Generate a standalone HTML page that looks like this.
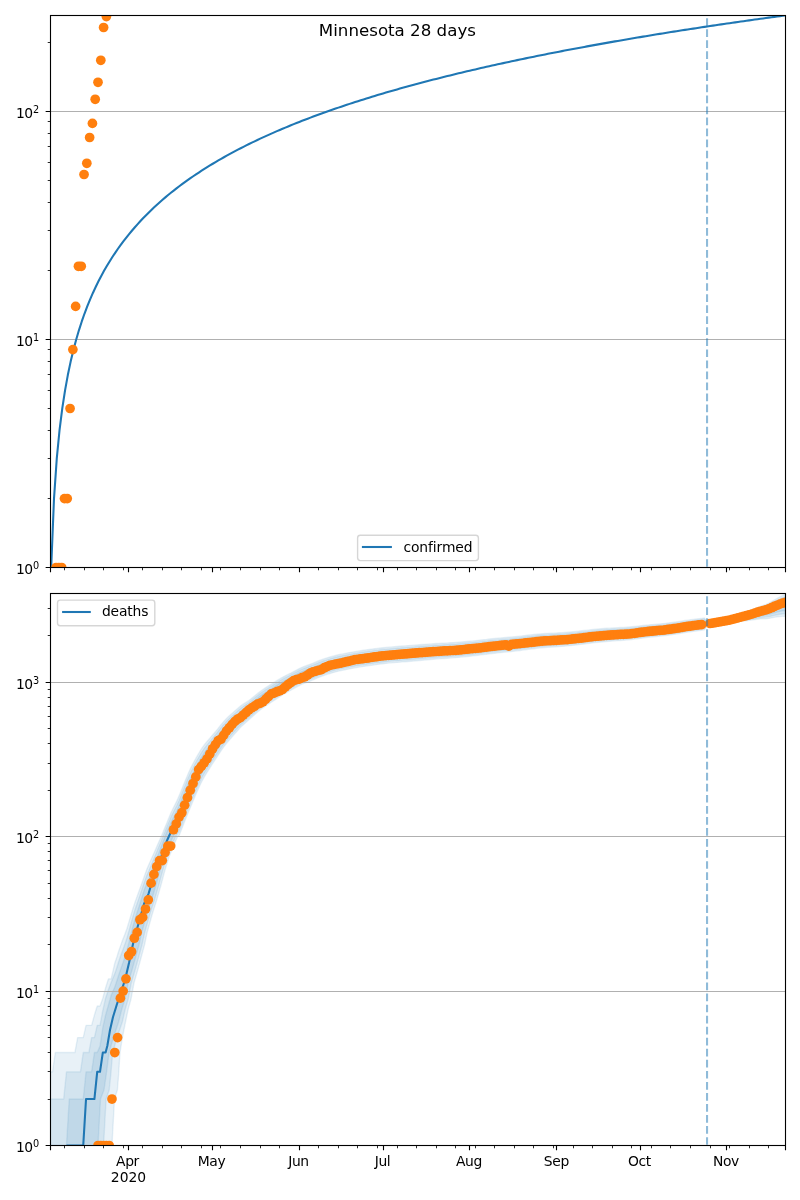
<!DOCTYPE html>
<html lang="en"><head><meta charset="utf-8"><title>Minnesota 28 days</title>
<style>html,body{margin:0;padding:0;background:#fff}svg{display:block}text{font-family:"DejaVu Sans","Liberation Sans",sans-serif;fill:#000}</style></head><body>
<svg width="800" height="1200" viewBox="0 0 800 1200">
<rect width="800" height="1200" fill="#fff"/>
<defs><clipPath id="c1"><rect x="50.5" y="15.5" width="735.0" height="552.0"/></clipPath><clipPath id="c2"><rect x="50.5" y="593.5" width="735.0" height="552.0"/></clipPath></defs>
<path d="M50.5 339.5H785.5M50.5 111.5H785.5" stroke="#b0b0b0" stroke-width="1.11" fill="none"/>
<polyline clip-path="url(#c1)" points="51.2,567.5 53.98,498.87 56.76,458.72 59.53,430.23 62.31,408.13 65.09,390.08 67.87,374.82 70.65,361.6 73.43,349.93 76.21,339.5 78.99,330.06 81.77,321.45 84.55,313.52 87.34,306.18 90.12,299.35 92.9,292.96 95.68,286.96 98.47,281.3 101.25,275.94 104.03,270.87 106.82,266.03 109.6,261.43 112.39,257.03 115.17,252.81 117.96,248.77 120.74,244.89 123.53,241.15 126.31,237.55 129.1,234.07 131.88,230.72 134.67,227.47 137.46,224.33 140.24,221.28 143.03,218.32 145.82,215.45 148.61,212.66 151.39,209.95 154.18,207.31 156.97,204.74 159.76,202.23 162.54,199.79 165.33,197.4 168.12,195.07 170.91,192.79 173.7,190.57 176.49,188.39 179.28,186.26 182.07,184.18 184.86,182.14 187.64,180.13 190.43,178.17 193.22,176.25 196.01,174.37 198.8,172.51 201.59,170.7 204.38,168.91 207.17,167.16 209.96,165.44 212.76,163.75 215.55,162.08 218.34,160.44 221.13,158.83 223.92,157.25 226.71,155.69 229.5,154.16 232.29,152.64 235.08,151.15 237.87,149.69 240.67,148.24 243.46,146.82 246.25,145.41 249.04,144.03 251.83,142.66 254.62,141.32 257.42,139.99 260.21,138.67 263,137.38 265.79,136.1 268.58,134.84 271.38,133.6 274.17,132.37 276.96,131.15 279.75,129.95 282.55,128.76 285.34,127.59 288.13,126.43 290.92,125.29 293.72,124.16 296.51,123.04 299.3,121.93 302.09,120.84 304.89,119.76 307.68,118.69 310.47,117.63 313.27,116.58 316.06,115.54 318.85,114.52 321.65,113.5 324.44,112.5 327.23,111.5 330.03,110.51 332.82,109.54 335.61,108.57 338.41,107.62 341.2,106.67 343.99,105.73 346.79,104.8 349.58,103.88 352.37,102.97 355.17,102.06 357.96,101.17 360.75,100.28 363.55,99.4 366.34,98.53 369.13,97.66 371.93,96.8 374.72,95.95 377.51,95.11 380.31,94.28 383.1,93.45 385.9,92.62 388.69,91.81 391.48,91 394.28,90.2 397.07,89.4 399.87,88.62 402.66,87.83 405.45,87.06 408.25,86.29 411.04,85.52 413.84,84.76 416.63,84.01 419.42,83.26 422.22,82.52 425.01,81.78 427.81,81.05 430.6,80.33 433.39,79.61 436.19,78.89 438.98,78.18 441.78,77.48 444.57,76.78 447.36,76.08 450.16,75.39 452.95,74.71 455.75,74.03 458.54,73.35 461.34,72.68 464.13,72.01 466.92,71.35 469.72,70.69 472.51,70.04 475.31,69.39 478.1,68.75 480.9,68.1 483.69,67.47 486.48,66.83 489.28,66.21 492.07,65.58 494.87,64.96 497.66,64.34 500.46,63.73 503.25,63.12 506.04,62.52 508.84,61.91 511.63,61.32 514.43,60.72 517.22,60.13 520.02,59.54 522.81,58.96 525.61,58.38 528.4,57.8 531.19,57.23 533.99,56.65 536.78,56.09 539.58,55.52 542.37,54.96 545.17,54.4 547.96,53.85 550.76,53.3 553.55,52.75 556.34,52.2 559.14,51.66 561.93,51.12 564.73,50.58 567.52,50.05 570.32,49.52 573.11,48.99 575.91,48.47 578.7,47.94 581.49,47.42 584.29,46.91 587.08,46.39 589.88,45.88 592.67,45.37 595.47,44.87 598.26,44.36 601.06,43.86 603.85,43.36 606.65,42.87 609.44,42.37 612.23,41.88 615.03,41.39 617.82,40.9 620.62,40.42 623.41,39.94 626.21,39.46 629,38.98 631.8,38.51 634.59,38.03 637.39,37.56 640.18,37.1 642.97,36.63 645.77,36.17 648.56,35.7 651.36,35.24 654.15,34.79 656.95,34.33 659.74,33.88 662.54,33.43 665.33,32.98 668.13,32.53 670.92,32.09 673.72,31.64 676.51,31.2 679.3,30.76 682.1,30.33 684.89,29.89 687.69,29.46 690.48,29.03 693.28,28.6 696.07,28.17 698.87,27.74 701.66,27.32 704.46,26.9 707.25,26.48 710.05,26.06 712.84,25.64 715.63,25.23 718.43,24.81 721.22,24.4 724.02,23.99 726.81,23.58 729.61,23.18 732.4,22.77 735.2,22.37 737.99,21.97 740.79,21.57 743.58,21.17 746.38,20.77 749.17,20.37 751.97,19.98 754.76,19.59 757.55,19.2 760.35,18.81 763.14,18.42 765.94,18.04 768.73,17.65 771.53,17.27 774.32,16.89 777.12,16.51 779.91,16.13 782.71,15.75 785.5,15.37" fill="none" stroke="#1f77b4" stroke-width="2.08" stroke-linejoin="round" stroke-linecap="square"/>
<g clip-path="url(#c1)" fill="#ff7f0e">
<circle cx="56.09" cy="567.5" r="4.86"/>
<circle cx="58.88" cy="567.5" r="4.86"/>
<circle cx="61.68" cy="567.5" r="4.86"/>
<circle cx="64.47" cy="498.6" r="4.86"/>
<circle cx="67.27" cy="498.6" r="4.86"/>
<circle cx="70.06" cy="408.5" r="4.86"/>
<circle cx="72.86" cy="349.6" r="4.86"/>
<circle cx="75.65" cy="306.4" r="4.86"/>
<circle cx="78.45" cy="266.3" r="4.86"/>
<circle cx="81.24" cy="266.3" r="4.86"/>
<circle cx="84.04" cy="174.5" r="4.86"/>
<circle cx="86.83" cy="163.3" r="4.86"/>
<circle cx="89.63" cy="137.5" r="4.86"/>
<circle cx="92.42" cy="123.4" r="4.86"/>
<circle cx="95.21" cy="99.3" r="4.86"/>
<circle cx="98.01" cy="82.3" r="4.86"/>
<circle cx="100.8" cy="60.3" r="4.86"/>
<circle cx="103.6" cy="27.5" r="4.86"/>
<circle cx="106.39" cy="16.6" r="4.86"/>
</g>
<path clip-path="url(#c1)" d="M707.05 566.85V15.5" stroke="#1f77b4" stroke-opacity="0.5" stroke-width="2.08" stroke-dasharray="7.71 3.33" fill="none"/>
<path d="M50.5 567.5v4.86M785.5 567.5v4.86M128.5 567.5v4.86M212.5 567.5v4.86M299.5 567.5v4.86M383.5 567.5v4.86M469.5 567.5v4.86M556.5 567.5v4.86M640.5 567.5v4.86M726.5 567.5v4.86" stroke="#000" stroke-width="1.11" fill="none"/>
<path d="M64.5 567.5v2.78M84.5 567.5v2.78M103.5 567.5v2.78M123.5 567.5v2.78M142.5 567.5v2.78M162.5 567.5v2.78M181.5 567.5v2.78M201.5 567.5v2.78M220.5 567.5v2.78M240.5 567.5v2.78M260.5 567.5v2.78M279.5 567.5v2.78M299.5 567.5v2.78M318.5 567.5v2.78M338.5 567.5v2.78M357.5 567.5v2.78M377.5 567.5v2.78M397.5 567.5v2.78M416.5 567.5v2.78M436.5 567.5v2.78M455.5 567.5v2.78M475.5 567.5v2.78M494.5 567.5v2.78M514.5 567.5v2.78M533.5 567.5v2.78M553.5 567.5v2.78M573.5 567.5v2.78M592.5 567.5v2.78M612.5 567.5v2.78M631.5 567.5v2.78M651.5 567.5v2.78M670.5 567.5v2.78M690.5 567.5v2.78M710.5 567.5v2.78M729.5 567.5v2.78M749.5 567.5v2.78M768.5 567.5v2.78" stroke="#000" stroke-width="0.83" fill="none"/>
<path d="M50.5 567.5h-4.86M50.5 339.5h-4.86M50.5 111.5h-4.86" stroke="#000" stroke-width="1.11" fill="none"/>
<path d="M50.5 498.5h-2.78M50.5 458.5h-2.78M50.5 430.5h-2.78M50.5 408.5h-2.78M50.5 390.5h-2.78M50.5 374.5h-2.78M50.5 361.5h-2.78M50.5 349.5h-2.78M50.5 270.5h-2.78M50.5 230.5h-2.78M50.5 202.5h-2.78M50.5 180.5h-2.78M50.5 162.5h-2.78M50.5 146.5h-2.78M50.5 133.5h-2.78M50.5 121.5h-2.78M50.5 42.5h-2.78" stroke="#000" stroke-width="0.83" fill="none"/>
<rect x="50.5" y="15.5" width="735.0" height="552.0" fill="none" stroke="#000" stroke-width="1.11" stroke-linejoin="miter"/>
<text x="15.95" y="573.8" font-size="13.89"><tspan letter-spacing="-0.6">1</tspan>0<tspan dy="-5.25" font-size="9.72">0</tspan></text>
<text x="15.95" y="345.8" font-size="13.89"><tspan letter-spacing="-0.6">1</tspan>0<tspan dy="-5.25" font-size="9.72">1</tspan></text>
<text x="15.95" y="117.8" font-size="13.89"><tspan letter-spacing="-0.6">1</tspan>0<tspan dy="-5.25" font-size="9.72">2</tspan></text>
<rect x="357.6" y="535.3" width="120.8" height="25.3" rx="2.78" fill="#fff" fill-opacity="0.8" stroke="#ccc" stroke-opacity="0.8" stroke-width="1.39"/>
<path d="M361.9 547h30" stroke="#1f77b4" stroke-width="2.08" fill="none"/>
<text x="403.4" y="551.95" font-size="13.89" letter-spacing="-0.1">confirmed</text>
<text x="397.4" y="36" font-size="16.67" text-anchor="middle">Minnesota 28 days</text>
<g clip-path="url(#c2)">
<polygon points="50.5,1185.5 49.7,1071.83 52.49,1071.83 55.29,1052.54 58.08,1052.54 60.88,1052.54 63.67,1052.54 66.47,1052.54 69.26,1052.54 72.06,1052.54 74.85,1052.54 77.65,1037.58 80.44,1037.58 83.24,1037.58 86.03,1025.35 88.83,1025.35 91.62,1025.35 94.41,1015.02 97.21,1006.06 100,1006.06 102.8,998.16 105.59,987.83 108.39,978.87 111.18,978.87 114.78,963 116.78,957.22 118.78,950.72 120.78,945.11 122.78,939.61 124.78,934.43 126.78,929.07 128.78,922.41 130.78,915.74 132.78,909.07 134.78,902.85 136.78,897.34 138.78,891.82 140.78,886.3 142.78,880.64 144.78,874.92 146.78,869.37 148.78,864.84 150.78,860.3 152.78,855.77 154.78,851.22 156.78,846.65 158.78,842.07 160.78,837.5 162.78,832.71 164.78,827.84 166.78,822.97 168.78,818.08 170.78,813.17 172.78,808.97 174.78,805.06 176.78,801.1 178.78,796.56 180.78,791.77 182.78,786.83 184.78,781.8 186.78,776.9 188.78,772.24 190.78,767.9 192.78,764.05 194.78,760.25 196.78,756.65 198.78,753.27 200.78,749.92 202.78,746.93 204.78,744.21 206.78,741.73 208.78,739.43 210.78,737.11 212.78,734.76 214.78,732.47 216.78,730.09 218.78,727.61 220.78,725.03 222.78,722.62 224.78,720.36 226.78,718.24 228.78,716.33 230.78,714.49 232.78,712.7 234.78,710.91 236.78,709.2 238.78,707.5 240.78,705.83 242.78,704.42 244.78,703.14 246.78,701.9 248.78,700.64 250.78,699.11 254.51,695.98 257.31,693.67 260.1,691.5 262.9,689.49 265.69,687.66 268.48,685.95 271.28,684.19 274.07,682.4 276.87,680.66 279.66,678.89 282.46,677.29 285.25,675.81 288.05,674.44 290.84,673.08 293.64,671.6 296.43,670.08 299.23,668.62 302.02,667.31 304.82,666.26 307.61,665.26 310.4,664.23 313.2,663.12 315.99,661.92 318.79,660.76 321.58,659.69 324.38,658.68 327.17,657.82 329.97,657.03 332.76,656.23 335.56,655.46 338.35,654.76 341.15,654.13 343.94,653.64 346.74,653.12 349.53,652.62 352.33,652.11 355.12,651.63 357.91,651.14 360.71,650.68 363.5,650.26 366.3,649.86 369.09,649.48 371.89,649.12 374.68,648.75 377.48,648.38 380.27,648.03 383.07,647.7 385.86,647.39 388.66,647.13 391.45,646.89 394.25,646.67 397.04,646.46 399.83,646.26 402.63,646.04 405.42,645.82 408.22,645.6 411.01,645.39 413.81,645.16 416.6,644.95 419.4,644.74 422.19,644.53 424.99,644.32 427.78,644.12 430.58,643.93 433.37,643.74 436.17,643.56 438.96,643.4 441.75,643.24 444.55,643.09 447.34,642.93 450.14,642.77 452.93,642.59 455.73,642.41 458.52,642.2 461.32,641.98 464.11,641.73 466.91,641.48 469.7,641.21 472.5,640.92 475.29,640.63 478.09,640.34 480.88,640.03 483.67,639.72 486.47,639.4 489.26,638.98 492.06,638.75 494.85,638.51 497.65,638.27 500.44,638.04 503.24,637.8 506.03,637.55 508.83,637.3 511.62,637.04 514.42,636.76 517.21,636.46 520.01,636.15 522.8,635.82 525.6,635.45 528.39,635.05 531.18,634.85 533.98,634.55 536.77,634.26 539.57,634 542.36,633.77 545.16,633.56 547.95,633.37 550.75,633.22 553.54,633.07 556.34,632.94 559.13,632.79 561.93,632.63 564.72,632.44 567.52,632.22 570.31,631.98 573.1,631.72 575.9,631.43 578.69,631.12 581.49,630.8 584.28,630.47 587.08,630.15 589.87,629.85 592.67,629.56 595.46,629.27 598.26,629.01 601.05,628.75 603.85,628.52 606.64,628.31 609.44,628.13 612.23,627.97 615.02,627.82 617.82,627.68 620.61,627.54 623.41,627.39 626.2,627.2 629,626.99 631.79,626.73 634.59,626.44 637.38,626.14 640.18,625.82 642.97,625.48 645.77,625.17 648.56,624.88 651.36,624.62 654.15,624.38 656.94,624.13 659.74,623.89 662.53,623.62 665.33,623.32 668.12,622.99 670.92,622.62 673.71,622.23 676.51,621.83 679.3,621.4 682.1,620.96 684.89,620.55 687.69,620.14 690.48,619.75 693.28,619.38 696.07,619.03 698.87,618.7 701.66,618.35 704.45,618 707.25,621.86 710.04,621.49 712.84,621.01 715.63,620.46 718.43,619.92 721.22,619.36 724.02,618.78 726.81,618.18 729.61,617.55 732.4,616.69 735.2,615.77 737.99,614.84 740.79,613.94 743.58,613.01 746.37,612.04 749.17,611.01 751.96,609.97 754.76,608.82 757.55,607.64 760.35,606.46 763.14,605.43 765.94,604.39 768.73,603.14 771.53,601.6 774.32,599.99 777.12,598.43 779.91,596.93 782.71,595.47 785.5,594.33 785.5,616.42 782.71,616.33 779.91,616.58 777.12,616.92 774.32,617.37 771.53,617.91 768.73,618.43 765.94,618.69 763.14,618.8 760.35,618.93 757.55,619.26 754.76,619.64 751.96,620.02 749.17,620.35 746.37,620.71 743.58,621.05 740.79,621.39 737.99,621.77 735.2,622.2 732.4,622.67 729.61,623.13 726.81,623.39 724.02,623.68 721.22,623.99 718.43,624.33 715.63,624.7 712.84,625.12 710.04,625.52 707.25,625.86 704.45,629.82 701.66,630.2 698.87,630.57 696.07,630.94 693.28,631.32 690.48,631.72 687.69,632.14 684.89,632.57 682.1,633.02 679.3,633.49 676.51,633.94 673.71,634.38 670.92,634.8 668.12,635.2 665.33,635.56 662.53,635.89 659.74,636.18 656.94,636.46 654.15,636.73 651.36,637.01 648.56,637.31 645.77,637.64 642.97,638.01 640.18,638.39 637.38,638.76 634.59,639.12 631.79,639.45 629,639.76 626.2,640.03 623.41,640.26 620.61,640.46 617.82,640.65 615.02,640.84 612.23,641.04 609.44,641.25 606.64,641.48 603.85,641.74 601.05,642.01 598.26,642.3 595.46,642.6 592.67,642.92 589.87,643.25 587.08,643.59 584.28,643.95 581.49,644.31 578.69,644.67 575.9,645.02 573.1,645.34 570.31,645.64 567.52,645.92 564.72,646.17 561.93,646.4 559.13,646.6 556.34,646.79 553.54,646.96 550.75,647.14 547.95,647.33 545.16,647.56 542.36,647.8 539.57,648.08 536.77,648.37 533.98,648.69 531.18,649.03 528.39,649.27 525.6,649.71 522.8,650.11 520.01,650.48 517.21,650.84 514.42,651.17 511.62,651.48 508.83,651.79 506.03,652.07 503.24,652.35 500.44,652.63 497.65,652.91 494.85,653.19 492.06,653.46 489.26,653.73 486.47,654.19 483.67,654.55 480.88,654.9 478.09,655.25 475.29,655.58 472.5,655.91 469.7,656.23 466.91,656.54 464.11,656.84 461.32,657.12 458.52,657.39 455.73,657.63 452.93,657.86 450.14,658.07 447.34,658.27 444.55,658.47 441.75,658.66 438.96,658.86 436.17,659.06 433.37,659.28 430.58,659.51 427.78,659.74 424.99,659.98 422.19,660.23 419.4,660.48 416.6,660.72 413.81,660.97 411.01,661.21 408.22,661.45 405.42,661.69 402.63,661.92 399.83,662.16 397.04,662.38 394.25,662.61 391.45,662.85 388.66,663.1 385.86,663.39 383.07,663.71 380.27,664.06 377.48,664.43 374.68,664.82 371.89,665.2 369.09,665.59 366.3,665.98 363.5,666.4 360.71,666.84 357.91,667.32 355.12,667.83 352.33,668.34 349.53,668.88 346.74,669.41 343.94,669.96 341.15,670.49 338.35,671.15 335.56,671.88 332.76,672.68 329.97,673.51 327.17,674.34 324.38,675.23 321.58,676.27 318.79,677.38 315.99,678.59 313.2,679.83 310.4,680.98 307.61,682.05 304.82,683.1 302.02,684.19 299.23,685.54 296.43,687.04 293.64,688.62 290.84,690.25 288.05,691.75 285.25,693.27 282.46,694.9 279.66,696.64 276.87,698.56 274.07,700.42 271.28,702.27 268.48,704.08 265.69,705.85 262.9,707.81 260.1,709.96 257.31,712.28 254.51,714.74 251.72,717.3 248.92,719.81 246.13,722.28 243.33,724.69 240.54,727.36 237.74,730.44 234.95,733.52 232.15,736.71 229.36,739.92 226.56,743.27 223.77,746.94 220.98,750.94 218.18,755.22 215.39,759.29 212.59,763.6 209.8,768.08 207,772.47 204.21,777.12 201.41,782.26 198.62,788.23 195.82,794.36 193.03,801.06 190.23,807.82 187.44,814.49 184.64,821.57 181.85,828.85 179.06,835.84 177.7,836.3 173.5,846 169,857 165,870 161,885 157,899 152,915 147,933 144.5,945 138.4,967.75 134,983 131,999 128,1010 125.5,1022 122.5,1037 120,1052.4 118.6,1075 117.4,1090 114.5,1099 111.98,1145.5 111.98,1185.5" fill="#1f77b4" fill-opacity="0.1" stroke="#1f77b4" stroke-opacity="0.1" stroke-width="1.39" stroke-linejoin="round"/>
<polygon points="50.5,1185.5 49.7,1099.02 52.49,1099.02 55.29,1099.02 58.08,1099.02 60.88,1099.02 63.67,1099.02 66.47,1071.83 69.26,1071.83 72.06,1071.83 74.85,1071.83 77.65,1071.83 80.44,1071.83 83.24,1052.54 86.03,1052.54 88.83,1052.54 91.62,1037.58 94.41,1037.58 97.21,1025.35 100,1025.35 102.8,1010.39 105.59,998.16 108.39,989.77 111.18,982.31 114.78,973.61 116.78,967.67 118.78,961.27 120.78,955.57 122.78,949.96 124.78,944.6 126.78,938.62 128.78,931.55 130.78,924.28 132.78,916.99 134.78,910.34 136.78,904.45 138.78,898.62 140.78,892.74 142.78,886.74 144.78,880.93 146.78,875.6 148.78,871.04 150.78,866.07 152.78,861.28 154.78,856.48 156.78,851.67 158.78,846.85 160.78,842.03 162.78,837.05 164.78,832 166.78,826.97 168.78,822.17 170.78,817.41 172.78,813.25 174.78,809.39 176.78,805.47 178.78,800.95 180.78,796.14 182.78,791.19 184.78,786.14 186.78,781.22 188.78,776.54 190.78,772.14 192.78,768.19 194.78,764.28 196.78,760.57 198.78,757.08 200.78,753.63 202.78,750.54 204.78,747.72 206.78,745.15 208.78,742.75 210.78,740.34 212.78,737.9 214.78,735.53 216.78,733.08 218.78,730.55 220.78,727.91 222.78,725.46 224.78,723.14 226.78,720.97 228.78,719 230.78,717.11 232.78,715.26 234.78,713.42 236.78,711.65 238.78,709.89 240.78,708.17 242.78,706.71 244.78,705.37 246.78,704.08 248.78,702.76 250.78,701.21 254.51,698.05 257.31,695.72 260.1,693.53 262.9,691.51 265.69,689.66 268.48,687.95 271.28,686.18 274.07,684.38 276.87,682.63 279.66,680.84 282.46,679.23 285.25,677.73 288.05,676.34 290.84,674.97 293.64,673.47 296.43,671.95 299.23,670.48 302.02,669.17 304.82,668.12 307.61,667.11 310.4,666.07 313.2,664.96 315.99,663.76 318.79,662.59 321.58,661.51 324.38,660.5 327.17,659.64 329.97,658.84 332.76,658.04 335.56,657.26 338.35,656.56 341.15,655.93 343.94,655.43 346.74,654.91 349.53,654.41 352.33,653.89 355.12,653.41 357.91,652.92 360.71,652.46 363.5,652.03 366.3,651.63 369.09,651.25 371.89,650.89 374.68,650.52 377.48,650.15 380.27,649.79 383.07,649.46 385.86,649.15 388.66,648.89 391.45,648.64 394.25,648.42 397.04,648.21 399.83,648 402.63,647.79 405.42,647.57 408.22,647.35 411.01,647.13 413.81,646.9 416.6,646.68 419.4,646.47 422.19,646.26 424.99,646.05 427.78,645.84 430.58,645.64 433.37,645.45 436.17,645.27 438.96,645.1 441.75,644.94 444.55,644.78 447.34,644.62 450.14,644.45 452.93,644.27 455.73,644.08 458.52,643.87 461.32,643.64 464.11,643.4 466.91,643.13 469.7,642.86 472.5,642.57 475.29,642.28 478.09,641.98 480.88,641.67 483.67,641.35 486.47,641.03 489.26,640.6 492.06,640.37 494.85,640.13 497.65,639.88 500.44,639.64 503.24,639.4 506.03,639.15 508.83,638.9 511.62,638.63 514.42,638.34 517.21,638.05 520.01,637.73 522.8,637.39 525.6,637.02 528.39,636.62 531.18,636.41 533.98,636.1 536.77,635.81 539.57,635.55 542.36,635.31 545.16,635.1 547.95,634.91 550.75,634.75 553.54,634.6 556.34,634.46 559.13,634.31 561.93,634.15 564.72,633.95 567.52,633.73 570.31,633.48 573.1,633.22 575.9,632.92 578.69,632.61 581.49,632.28 584.28,631.96 587.08,631.63 589.87,631.33 592.67,631.03 595.46,630.74 598.26,630.47 601.05,630.21 603.85,629.97 606.64,629.76 609.44,629.57 612.23,629.4 615.02,629.25 617.82,629.11 620.61,628.96 623.41,628.8 626.2,628.62 629,628.39 631.79,628.13 634.59,627.84 637.38,627.53 640.18,627.2 642.97,626.86 645.77,626.54 648.56,626.25 651.36,625.99 654.15,625.74 656.94,625.49 659.74,625.24 662.53,624.97 665.33,624.67 668.12,624.34 670.92,623.96 673.71,623.57 676.51,623.16 679.3,622.73 682.1,622.29 684.89,621.87 687.69,621.46 690.48,621.07 693.28,620.69 696.07,620.34 698.87,620 701.66,619.66 704.45,619.3 707.25,622.3 710.04,621.93 712.84,621.47 715.63,620.93 718.43,620.41 721.22,619.88 724.02,619.33 726.81,618.77 729.61,618.18 732.4,617.36 735.2,616.5 737.99,615.62 740.79,614.77 743.58,613.91 746.37,613 749.17,612.04 751.96,611.07 754.76,610 757.55,608.9 760.35,607.81 763.14,606.87 765.94,605.91 768.73,604.77 771.53,603.32 774.32,601.82 777.12,600.36 779.91,598.97 782.71,597.62 785.5,596.59 785.5,613.83 782.71,613.89 779.91,614.3 777.12,614.78 774.32,615.37 771.53,616.04 768.73,616.69 765.94,617.07 763.14,617.29 760.35,617.54 757.55,617.97 754.76,618.44 751.96,618.92 749.17,619.33 746.37,619.76 743.58,620.18 740.79,620.59 737.99,621.02 735.2,621.51 732.4,622.03 729.61,622.53 726.81,622.84 724.02,623.16 721.22,623.5 718.43,623.86 715.63,624.24 712.84,624.67 710.04,625.08 707.25,625.42 704.45,628.52 701.66,628.9 698.87,629.27 696.07,629.63 693.28,630 690.48,630.4 687.69,630.82 684.89,631.25 682.1,631.69 679.3,632.16 676.51,632.61 673.71,633.04 670.92,633.46 668.12,633.86 665.33,634.21 662.53,634.54 659.74,634.83 656.94,635.1 654.15,635.37 651.36,635.65 648.56,635.94 645.77,636.27 642.97,636.63 640.18,637.01 637.38,637.37 634.59,637.72 631.79,638.05 629,638.35 626.2,638.62 623.41,638.85 620.61,639.04 617.82,639.23 615.02,639.41 612.23,639.6 609.44,639.81 606.64,640.04 603.85,640.28 601.05,640.55 598.26,640.83 595.46,641.14 592.67,641.45 589.87,641.78 587.08,642.12 584.28,642.47 581.49,642.83 578.69,643.18 575.9,643.52 573.1,643.84 570.31,644.14 567.52,644.41 564.72,644.66 561.93,644.89 559.13,645.09 556.34,645.26 553.54,645.43 550.75,645.61 547.95,645.8 545.16,646.02 542.36,646.26 539.57,646.53 536.77,646.82 533.98,647.14 531.18,647.47 528.39,647.71 525.6,648.14 522.8,648.54 520.01,648.91 517.21,649.25 514.42,649.58 511.62,649.9 508.83,650.19 506.03,650.48 503.24,650.75 500.44,651.02 497.65,651.3 494.85,651.57 492.06,651.84 489.26,652.11 486.47,652.57 483.67,652.92 480.88,653.27 478.09,653.61 475.29,653.94 472.5,654.26 469.7,654.58 466.91,654.89 464.11,655.18 461.32,655.46 458.52,655.72 455.73,655.96 452.93,656.18 450.14,656.39 447.34,656.59 444.55,656.78 441.75,656.97 438.96,657.16 436.17,657.36 433.37,657.57 430.58,657.79 427.78,658.02 424.99,658.26 422.19,658.5 419.4,658.75 416.6,658.99 413.81,659.23 411.01,659.47 408.22,659.71 405.42,659.94 402.63,660.17 399.83,660.41 397.04,660.63 394.25,660.86 391.45,661.09 388.66,661.35 385.86,661.63 383.07,661.95 380.27,662.3 377.48,662.67 374.68,663.06 371.89,663.43 369.09,663.81 366.3,664.21 363.5,664.62 360.71,665.07 357.91,665.54 355.12,666.05 352.33,666.55 349.53,667.09 346.74,667.62 343.94,668.17 341.15,668.69 338.35,669.35 335.56,670.07 332.76,670.87 329.97,671.7 327.17,672.52 324.38,673.41 321.58,674.45 318.79,675.55 315.99,676.75 313.2,677.99 310.4,679.13 307.61,680.2 304.82,681.25 302.02,682.33 299.23,683.68 296.43,685.18 293.64,686.74 290.84,688.36 288.05,689.84 285.25,691.35 282.46,692.96 279.66,694.69 276.87,696.59 274.07,698.43 271.28,700.28 268.48,702.09 265.69,703.85 262.9,705.79 260.1,707.93 257.31,710.23 254.51,712.68 251.72,715.22 248.92,717.7 246.13,720.08 243.33,722.42 240.54,725.01 237.74,728.01 234.95,731.02 232.15,734.13 229.36,737.27 226.56,740.54 223.77,744.13 220.98,748.06 218.18,752.27 215.39,756.26 212.59,760.45 209.8,764.8 207,769.05 204.21,773.58 201.41,778.58 198.62,784.41 195.82,790.39 193.03,796.93 190.23,803.55 187.44,810.18 184.64,817.24 181.85,824.49 179.06,831.45 175.7,836.3 171.46,846 166.91,857 162.86,870 158.8,885 154.73,899 149.64,915 144.55,933 141.98,945 135.76,967.75 131.28,983 128.2,999 125.01,1010 122.3,1022 117.25,1037 112.69,1052.4 110.76,1075 109.21,1090 106.1,1099 103.58,1145.5 103.58,1185.5" fill="#1f77b4" fill-opacity="0.1" stroke="#1f77b4" stroke-opacity="0.1" stroke-width="1.39" stroke-linejoin="round"/>
<polygon points="50.5,1185.5 49.7,1145.5 52.49,1145.5 55.29,1145.5 58.08,1145.5 60.88,1145.5 63.67,1145.5 66.47,1145.5 69.26,1099.02 72.06,1099.02 74.85,1099.02 77.65,1099.02 80.44,1099.02 83.24,1099.02 86.03,1071.83 88.83,1071.83 91.62,1071.83 94.41,1052.54 97.21,1052.54 100,1046.15 102.8,1027.63 105.59,1015.02 108.39,1005.23 111.18,995.25 114.78,987.11 116.78,980.97 118.78,974.7 120.78,968.89 122.78,963.14 124.78,957.55 126.78,950.76 128.78,943.18 130.78,935.15 132.78,927.07 134.78,919.87 136.78,913.5 138.78,907.27 140.78,900.93 142.78,894.51 144.78,888.58 146.78,883.52 148.78,878.93 150.78,873.4 152.78,868.29 154.78,863.18 156.78,858.05 158.78,852.93 160.78,847.81 162.78,842.58 164.78,837.3 166.78,832.05 168.78,827.39 170.78,822.81 172.78,818.71 174.78,814.9 176.78,811.03 178.78,806.53 180.78,801.71 182.78,796.73 184.78,791.66 186.78,786.72 188.78,782.01 190.78,777.55 192.78,773.46 194.78,769.41 196.78,765.56 198.78,761.92 200.78,758.35 202.78,755.14 204.78,752.2 206.78,749.51 208.78,746.99 210.78,744.46 212.78,741.9 214.78,739.41 216.78,736.88 218.78,734.28 220.78,731.58 222.78,729.06 224.78,726.68 226.78,724.44 228.78,722.4 230.78,720.44 232.78,718.52 234.78,716.61 236.78,714.78 238.78,712.95 240.78,711.15 242.78,709.62 244.78,708.22 246.78,706.85 248.78,705.46 250.78,703.87 254.51,700.67 257.31,698.32 260.1,696.11 262.9,694.07 265.69,692.21 268.48,690.49 271.28,688.71 274.07,686.9 276.87,685.13 279.66,683.33 282.46,681.69 285.25,680.18 288.05,678.76 290.84,677.37 293.64,675.85 296.43,674.32 299.23,672.85 302.02,671.53 304.82,670.47 307.61,669.46 310.4,668.42 313.2,667.3 315.99,666.09 318.79,664.91 321.58,663.83 324.38,662.81 327.17,661.95 329.97,661.15 332.76,660.34 335.56,659.56 338.35,658.86 341.15,658.22 343.94,657.72 346.74,657.19 349.53,656.69 352.33,656.17 355.12,655.68 357.91,655.18 360.71,654.72 363.5,654.29 366.3,653.89 369.09,653.51 371.89,653.14 374.68,652.77 377.48,652.39 380.27,652.03 383.07,651.7 385.86,651.39 388.66,651.12 391.45,650.88 394.25,650.66 397.04,650.44 399.83,650.23 402.63,650.01 405.42,649.79 408.22,649.57 411.01,649.34 413.81,649.12 416.6,648.89 419.4,648.67 422.19,648.45 424.99,648.24 427.78,648.03 430.58,647.82 433.37,647.62 436.17,647.44 438.96,647.26 441.75,647.1 444.55,646.93 447.34,646.77 450.14,646.59 452.93,646.41 455.73,646.21 458.52,646 461.32,645.76 464.11,645.51 466.91,645.24 469.7,644.96 472.5,644.67 475.29,644.37 478.09,644.07 480.88,643.75 483.67,643.43 486.47,643.1 489.26,642.67 492.06,642.43 494.85,642.18 497.65,641.93 500.44,641.68 503.24,641.44 506.03,641.18 508.83,640.92 511.62,640.65 514.42,640.36 517.21,640.06 520.01,639.73 522.8,639.39 525.6,639.01 528.39,638.61 531.18,638.39 533.98,638.08 536.77,637.79 539.57,637.52 542.36,637.28 545.16,637.06 547.95,636.86 550.75,636.7 553.54,636.55 556.34,636.4 559.13,636.25 561.93,636.07 564.72,635.87 567.52,635.64 570.31,635.4 573.1,635.12 575.9,634.83 578.69,634.51 581.49,634.18 584.28,633.84 587.08,633.51 589.87,633.2 592.67,632.9 595.46,632.61 598.26,632.33 601.05,632.07 603.85,631.82 606.64,631.61 609.44,631.41 612.23,631.23 615.02,631.07 617.82,630.92 620.61,630.77 623.41,630.61 626.2,630.41 629,630.18 631.79,629.91 634.59,629.61 637.38,629.29 640.18,628.96 642.97,628.61 645.77,628.29 648.56,627.99 651.36,627.72 654.15,627.47 656.94,627.22 659.74,626.96 662.53,626.69 665.33,626.38 668.12,626.04 670.92,625.67 673.71,625.27 676.51,624.85 679.3,624.43 682.1,623.98 684.89,623.55 687.69,623.14 690.48,622.74 693.28,622.36 696.07,622.01 698.87,621.67 701.66,621.32 704.45,620.96 707.25,622.86 710.04,622.5 712.84,622.05 715.63,621.54 718.43,621.04 721.22,620.54 724.02,620.04 726.81,619.52 729.61,618.99 732.4,618.22 735.2,617.42 737.99,616.62 740.79,615.84 743.58,615.05 746.37,614.23 749.17,613.36 751.96,612.48 754.76,611.51 757.55,610.51 760.35,609.53 763.14,608.7 765.94,607.86 768.73,606.83 771.53,605.51 774.32,604.14 777.12,602.81 779.91,601.56 782.71,600.36 785.5,599.48 785.5,610.52 782.71,610.79 779.91,611.39 777.12,612.06 774.32,612.83 771.53,613.67 768.73,614.47 765.94,615.01 763.14,615.38 760.35,615.76 757.55,616.32 754.76,616.92 751.96,617.51 749.17,618.03 746.37,618.56 743.58,619.08 740.79,619.57 737.99,620.08 735.2,620.63 732.4,621.21 729.61,621.77 726.81,622.13 724.02,622.49 721.22,622.86 718.43,623.25 715.63,623.66 712.84,624.1 710.04,624.51 707.25,624.86 704.45,626.86 701.66,627.24 698.87,627.6 696.07,627.96 693.28,628.33 690.48,628.72 687.69,629.14 684.89,629.57 682.1,630.01 679.3,630.47 676.51,630.91 673.71,631.34 670.92,631.76 668.12,632.15 665.33,632.5 662.53,632.82 659.74,633.11 656.94,633.38 654.15,633.64 651.36,633.91 648.56,634.2 645.77,634.52 642.97,634.87 640.18,635.25 637.38,635.61 634.59,635.95 631.79,636.27 629,636.57 626.2,636.82 623.41,637.04 620.61,637.23 617.82,637.41 615.02,637.58 612.23,637.77 609.44,637.97 606.64,638.19 603.85,638.43 601.05,638.69 598.26,638.97 595.46,639.27 592.67,639.58 589.87,639.9 587.08,640.23 584.28,640.58 581.49,640.93 578.69,641.28 575.9,641.62 573.1,641.94 570.31,642.23 567.52,642.49 564.72,642.74 561.93,642.96 559.13,643.15 556.34,643.32 553.54,643.49 550.75,643.66 547.95,643.84 545.16,644.06 542.36,644.3 539.57,644.56 536.77,644.85 533.98,645.16 531.18,645.49 528.39,645.72 525.6,646.14 522.8,646.54 520.01,646.9 517.21,647.24 514.42,647.57 511.62,647.87 508.83,648.16 506.03,648.44 503.24,648.72 500.44,648.98 497.65,649.25 494.85,649.52 492.06,649.78 489.26,650.04 486.47,650.5 483.67,650.84 480.88,651.18 478.09,651.52 475.29,651.85 472.5,652.17 469.7,652.48 466.91,652.78 464.11,653.06 461.32,653.34 458.52,653.59 455.73,653.83 452.93,654.04 450.14,654.25 447.34,654.44 444.55,654.62 441.75,654.81 438.96,654.99 436.17,655.19 433.37,655.39 430.58,655.61 427.78,655.84 424.99,656.07 422.19,656.3 419.4,656.54 416.6,656.78 413.81,657.02 411.01,657.26 408.22,657.49 405.42,657.72 402.63,657.95 399.83,658.18 397.04,658.4 394.25,658.62 391.45,658.86 388.66,659.11 385.86,659.39 383.07,659.71 380.27,660.05 377.48,660.42 374.68,660.81 371.89,661.18 369.09,661.56 366.3,661.95 363.5,662.36 360.71,662.8 357.91,663.27 355.12,663.78 352.33,664.28 349.53,664.82 346.74,665.34 343.94,665.88 341.15,666.4 338.35,667.05 335.56,667.77 332.76,668.57 329.97,669.39 327.17,670.21 324.38,671.09 321.58,672.12 318.79,673.22 315.99,674.42 313.2,675.65 310.4,676.79 307.61,677.85 304.82,678.89 302.02,679.97 299.23,681.31 296.43,682.8 293.64,684.36 290.84,685.96 288.05,687.42 285.25,688.91 282.46,690.5 279.66,692.21 276.87,694.08 274.07,695.91 271.28,697.75 268.48,699.55 265.69,701.3 262.9,703.23 260.1,705.34 257.31,707.63 254.51,710.05 251.72,712.57 248.92,715 246.13,717.29 243.33,719.53 240.54,722.02 237.74,724.92 234.95,727.83 232.15,730.85 229.36,733.89 226.56,737.07 223.77,740.56 220.98,744.4 218.18,748.51 215.39,752.41 212.59,756.45 209.8,760.63 207,764.71 204.21,769.07 201.41,773.91 198.62,779.56 195.82,785.33 193.03,791.69 190.23,798.1 187.44,804.69 184.64,811.71 181.85,818.93 179.06,825.87 173.2,836.3 168.9,846 164.29,857 160.15,870 156,885 151.88,899 146.74,915 141.58,933 138.97,945 132.67,967.75 128.14,983 125,999 121.57,1010 118.6,1022 113.6,1037 109.07,1052.4 106.18,1075 103.99,1090 100.5,1099 97.98,1145.5 97.98,1185.5" fill="#1f77b4" fill-opacity="0.1" stroke="#1f77b4" stroke-opacity="0.1" stroke-width="1.39" stroke-linejoin="round"/>
</g>
<path d="M50.5 991.5H785.5M50.5 836.5H785.5M50.5 682.5H785.5" stroke="#b0b0b0" stroke-width="1.11" fill="none"/>
<g clip-path="url(#c2)">
</g>
<polyline clip-path="url(#c2)" points="66.47,1145.5 83.24,1145.5 86.03,1099.02 94.41,1099.02 97.21,1071.83 100,1071.83 102.8,1052.54 105.59,1052.54 107.3,1046 110,1030 113,1017 117,1004 121,992 125,980 129,963 133,944 135.5,934 138,925.5 144,904 148.7,893.3 150,888.7 155,874.5 161,857.5 166.7,841.3 170,834 173.5,827 176.26,822.1 179.06,815.89 181.85,809.01 184.64,801.85 187.44,794.89 190.23,788.38 193.03,782.32 195.82,776.31 198.62,770.88 201.41,765.56 204.21,761.02 207,756.96 209.8,753.17 212.59,749.29 215.39,745.53 218.18,741.8 220.98,737.85 223.77,734.19 226.56,730.86 229.36,727.85 232.15,724.98 234.95,722.14 237.74,719.41 240.54,716.68 243.33,714.36 246.13,712.3 248.92,710.18 251.72,707.84 254.51,705.36 257.31,702.97 260.1,700.73 262.9,698.65 265.69,696.75 268.48,695.02 271.28,693.23 274.07,691.41 276.87,689.61 279.66,687.77 282.46,686.1 285.25,684.54 288.05,683.09 290.84,681.66 293.64,680.11 296.43,678.56 299.23,677.08 302.02,675.75 304.82,674.68 307.61,673.65 310.4,672.6 313.2,671.47 315.99,670.25 318.79,669.07 321.58,667.98 324.38,666.95 327.17,666.08 329.97,665.27 332.76,664.46 335.56,663.67 338.35,662.95 341.15,662.31 343.94,661.8 346.74,661.27 349.53,660.75 352.33,660.22 355.12,659.73 357.91,659.23 360.71,658.76 363.5,658.33 366.3,657.92 369.09,657.53 371.89,657.16 374.68,656.79 377.48,656.41 380.27,656.04 383.07,655.7 385.86,655.39 388.66,655.12 391.45,654.87 394.25,654.64 397.04,654.42 399.83,654.21 402.63,653.98 405.42,653.75 408.22,653.53 411.01,653.3 413.81,653.07 416.6,652.84 419.4,652.61 422.19,652.38 424.99,652.15 427.78,651.93 430.58,651.72 433.37,651.51 436.17,651.31 438.96,651.13 441.75,650.95 444.55,650.78 447.34,650.6 450.14,650.42 452.93,650.23 455.73,650.02 458.52,649.79 461.32,649.55 464.11,649.29 466.91,649.01 469.7,648.72 472.5,648.42 475.29,648.11 478.09,647.79 480.88,647.47 483.67,647.14 486.47,646.8 489.26,646.35 492.06,646.11 494.85,645.85 497.65,645.59 500.44,645.33 503.24,645.08 506.03,644.81 508.83,644.54 511.62,644.26 514.42,643.96 517.21,643.65 520.01,643.32 522.8,642.97 525.6,642.58 528.39,642.16 531.18,641.94 533.98,641.62 536.77,641.32 539.57,641.04 542.36,640.79 545.16,640.56 547.95,640.35 550.75,640.18 553.54,640.02 556.34,639.86 559.13,639.7 561.93,639.52 564.72,639.3 567.52,639.07 570.31,638.81 573.1,638.53 575.9,638.22 578.69,637.9 581.49,637.56 584.28,637.21 587.08,636.87 589.87,636.55 592.67,636.24 595.46,635.94 598.26,635.65 601.05,635.38 603.85,635.13 606.64,634.9 609.44,634.69 612.23,634.5 615.02,634.33 617.82,634.17 620.61,634 623.41,633.82 626.2,633.62 629,633.37 631.79,633.09 634.59,632.78 637.38,632.45 640.18,632.1 642.97,631.74 645.77,631.41 648.56,631.09 651.36,630.82 654.15,630.55 656.94,630.3 659.74,630.04 662.53,629.75 665.33,629.44 668.12,629.1 670.92,628.71 673.71,628.31 676.51,627.88 679.3,627.45 682.1,626.99 684.89,626.56 687.69,626.14 690.48,625.73 693.28,625.35 696.07,624.99 698.87,624.63 701.66,624.28 704.45,623.91 707.25,623.86 710.04,623.51 712.84,623.08 715.63,622.61 718.43,622.17 721.22,621.73 724.02,621.3 726.81,620.86 729.61,620.42 732.4,619.76 735.2,619.07 737.99,618.39 740.79,617.74 743.58,617.1 746.37,616.42 749.17,615.71 751.96,615 754.76,614.2 757.55,613.38 760.35,612.59 763.14,611.96 765.94,611.33 768.73,610.52 771.53,609.43 774.32,608.28 777.12,607.19 779.91,606.19 782.71,605.25 785.5,604.62" fill="none" stroke="#1f77b4" stroke-width="2.08" stroke-linejoin="round"/>
<g clip-path="url(#c2)" fill="#ff7f0e">
<circle cx="98.01" cy="1145.5" r="4.86"/>
<circle cx="100.8" cy="1145.5" r="4.86"/>
<circle cx="103.6" cy="1145.5" r="4.86"/>
<circle cx="106.39" cy="1145.5" r="4.86"/>
<circle cx="109.19" cy="1145.5" r="4.86"/>
<circle cx="111.98" cy="1099.02" r="4.86"/>
<circle cx="114.78" cy="1052.54" r="4.86"/>
<circle cx="117.57" cy="1037.58" r="4.86"/>
<circle cx="120.37" cy="998.16" r="4.86"/>
<circle cx="123.16" cy="991.1" r="4.86"/>
<circle cx="125.96" cy="978.87" r="4.86"/>
<circle cx="128.75" cy="955.52" r="4.86"/>
<circle cx="131.55" cy="951.69" r="4.86"/>
<circle cx="134.34" cy="938.23" r="4.86"/>
<circle cx="137.13" cy="932.4" r="4.86"/>
<circle cx="139.93" cy="919.71" r="4.86"/>
<circle cx="142.72" cy="917.43" r="4.86"/>
<circle cx="145.52" cy="909.04" r="4.86"/>
<circle cx="148.31" cy="899.84" r="4.86"/>
<circle cx="151.11" cy="883.18" r="4.86"/>
<circle cx="153.9" cy="874.39" r="4.86"/>
<circle cx="156.7" cy="866.63" r="4.86"/>
<circle cx="159.49" cy="860.62" r="4.86"/>
<circle cx="162.29" cy="860.62" r="4.86"/>
<circle cx="165.08" cy="852.51" r="4.86"/>
<circle cx="167.88" cy="846.04" r="4.86"/>
<circle cx="170.67" cy="846.04" r="4.86"/>
<circle cx="173.47" cy="829.7" r="4.86"/>
<circle cx="176.26" cy="823.92" r="4.86"/>
<circle cx="179.06" cy="817.08" r="4.86"/>
<circle cx="181.85" cy="812.72" r="4.86"/>
<circle cx="184.64" cy="805.18" r="4.86"/>
<circle cx="187.44" cy="797.66" r="4.86"/>
<circle cx="190.23" cy="790.22" r="4.86"/>
<circle cx="193.03" cy="783.53" r="4.86"/>
<circle cx="195.82" cy="776.89" r="4.86"/>
<circle cx="198.62" cy="769.6" r="4.86"/>
<circle cx="201.41" cy="766.24" r="4.86"/>
<circle cx="204.21" cy="762.81" r="4.86"/>
<circle cx="207" cy="758.91" r="4.86"/>
<circle cx="209.8" cy="754.05" r="4.86"/>
<circle cx="212.59" cy="748.79" r="4.86"/>
<circle cx="215.39" cy="744.59" r="4.86"/>
<circle cx="218.18" cy="740.63" r="4.86"/>
<circle cx="220.98" cy="739.21" r="4.86"/>
<circle cx="223.77" cy="735.1" r="4.86"/>
<circle cx="226.56" cy="730.82" r="4.86"/>
<circle cx="229.36" cy="727.71" r="4.86"/>
<circle cx="232.15" cy="724.37" r="4.86"/>
<circle cx="234.95" cy="721.42" r="4.86"/>
<circle cx="237.74" cy="719.06" r="4.86"/>
<circle cx="240.54" cy="717.57" r="4.86"/>
<circle cx="243.33" cy="715.01" r="4.86"/>
<circle cx="246.13" cy="712.44" r="4.86"/>
<circle cx="248.92" cy="709.86" r="4.86"/>
<circle cx="251.72" cy="707.87" r="4.86"/>
<circle cx="254.51" cy="706.22" r="4.86"/>
<circle cx="257.31" cy="704.14" r="4.86"/>
<circle cx="260.1" cy="703.31" r="4.86"/>
<circle cx="262.9" cy="701.77" r="4.86"/>
<circle cx="265.69" cy="699.22" r="4.86"/>
<circle cx="268.48" cy="696.51" r="4.86"/>
<circle cx="271.28" cy="693.83" r="4.86"/>
<circle cx="274.07" cy="693.04" r="4.86"/>
<circle cx="276.87" cy="691.72" r="4.86"/>
<circle cx="279.66" cy="690.8" r="4.86"/>
<circle cx="282.46" cy="689.44" r="4.86"/>
<circle cx="285.25" cy="687.02" r="4.86"/>
<circle cx="288.05" cy="684.55" r="4.86"/>
<circle cx="290.84" cy="682.57" r="4.86"/>
<circle cx="293.64" cy="680.58" r="4.86"/>
<circle cx="296.43" cy="679.67" r="4.86"/>
<circle cx="299.23" cy="679.03" r="4.86"/>
<circle cx="302.02" cy="677.64" r="4.86"/>
<circle cx="304.82" cy="676.77" r="4.86"/>
<circle cx="307.61" cy="675" r="4.86"/>
<circle cx="310.4" cy="673.04" r="4.86"/>
<circle cx="313.2" cy="671.77" r="4.86"/>
<circle cx="315.99" cy="671.14" r="4.86"/>
<circle cx="318.79" cy="670.24" r="4.86"/>
<circle cx="321.58" cy="669.63" r="4.86"/>
<circle cx="324.38" cy="667.71" r="4.86"/>
<circle cx="327.17" cy="666.51" r="4.86"/>
<circle cx="329.97" cy="665.31" r="4.86"/>
<circle cx="332.76" cy="664.74" r="4.86"/>
<circle cx="335.56" cy="664.17" r="4.86"/>
<circle cx="338.35" cy="663.6" r="4.86"/>
<circle cx="341.15" cy="663.03" r="4.86"/>
<circle cx="343.94" cy="662.4" r="4.86"/>
<circle cx="346.74" cy="661.72" r="4.86"/>
<circle cx="349.53" cy="661.03" r="4.86"/>
<circle cx="352.33" cy="660.35" r="4.86"/>
<circle cx="355.12" cy="659.68" r="4.86"/>
<circle cx="357.91" cy="659.32" r="4.86"/>
<circle cx="360.71" cy="658.96" r="4.86"/>
<circle cx="363.5" cy="658.59" r="4.86"/>
<circle cx="366.3" cy="658.23" r="4.86"/>
<circle cx="369.09" cy="657.83" r="4.86"/>
<circle cx="371.89" cy="657.4" r="4.86"/>
<circle cx="374.68" cy="656.97" r="4.86"/>
<circle cx="377.48" cy="656.54" r="4.86"/>
<circle cx="380.27" cy="656.12" r="4.86"/>
<circle cx="383.07" cy="655.85" r="4.86"/>
<circle cx="385.86" cy="655.58" r="4.86"/>
<circle cx="388.66" cy="655.3" r="4.86"/>
<circle cx="391.45" cy="655.03" r="4.86"/>
<circle cx="394.25" cy="654.8" r="4.86"/>
<circle cx="397.04" cy="654.59" r="4.86"/>
<circle cx="399.83" cy="654.38" r="4.86"/>
<circle cx="402.63" cy="654.18" r="4.86"/>
<circle cx="405.42" cy="653.96" r="4.86"/>
<circle cx="408.22" cy="653.71" r="4.86"/>
<circle cx="411.01" cy="653.46" r="4.86"/>
<circle cx="413.81" cy="653.21" r="4.86"/>
<circle cx="416.6" cy="652.96" r="4.86"/>
<circle cx="419.4" cy="652.73" r="4.86"/>
<circle cx="422.19" cy="652.53" r="4.86"/>
<circle cx="424.99" cy="652.32" r="4.86"/>
<circle cx="427.78" cy="652.11" r="4.86"/>
<circle cx="430.58" cy="651.91" r="4.86"/>
<circle cx="433.37" cy="651.7" r="4.86"/>
<circle cx="436.17" cy="651.49" r="4.86"/>
<circle cx="438.96" cy="651.29" r="4.86"/>
<circle cx="441.75" cy="651.08" r="4.86"/>
<circle cx="444.55" cy="650.92" r="4.86"/>
<circle cx="447.34" cy="650.78" r="4.86"/>
<circle cx="450.14" cy="650.64" r="4.86"/>
<circle cx="452.93" cy="650.5" r="4.86"/>
<circle cx="455.73" cy="650.33" r="4.86"/>
<circle cx="458.52" cy="650.05" r="4.86"/>
<circle cx="461.32" cy="649.77" r="4.86"/>
<circle cx="464.11" cy="649.49" r="4.86"/>
<circle cx="466.91" cy="649.21" r="4.86"/>
<circle cx="469.7" cy="648.93" r="4.86"/>
<circle cx="472.5" cy="648.65" r="4.86"/>
<circle cx="475.29" cy="648.37" r="4.86"/>
<circle cx="478.09" cy="648.09" r="4.86"/>
<circle cx="480.88" cy="647.79" r="4.86"/>
<circle cx="483.67" cy="647.43" r="4.86"/>
<circle cx="486.47" cy="647.07" r="4.86"/>
<circle cx="489.26" cy="646.71" r="4.86"/>
<circle cx="492.06" cy="646.36" r="4.86"/>
<circle cx="494.85" cy="646.06" r="4.86"/>
<circle cx="497.65" cy="645.76" r="4.86"/>
<circle cx="500.44" cy="645.47" r="4.86"/>
<circle cx="503.24" cy="645.18" r="4.86"/>
<circle cx="506.03" cy="644.9" r="4.86"/>
<circle cx="508.83" cy="646.13" r="4.86"/>
<circle cx="511.62" cy="644.36" r="4.86"/>
<circle cx="514.42" cy="644.1" r="4.86"/>
<circle cx="517.21" cy="643.83" r="4.86"/>
<circle cx="520.01" cy="643.54" r="4.86"/>
<circle cx="522.8" cy="643.25" r="4.86"/>
<circle cx="525.6" cy="642.96" r="4.86"/>
<circle cx="528.39" cy="642.67" r="4.86"/>
<circle cx="531.18" cy="642.36" r="4.86"/>
<circle cx="533.98" cy="642.02" r="4.86"/>
<circle cx="536.77" cy="641.69" r="4.86"/>
<circle cx="539.57" cy="641.35" r="4.86"/>
<circle cx="542.36" cy="641.02" r="4.86"/>
<circle cx="545.16" cy="640.87" r="4.86"/>
<circle cx="547.95" cy="640.74" r="4.86"/>
<circle cx="550.75" cy="640.6" r="4.86"/>
<circle cx="553.54" cy="640.47" r="4.86"/>
<circle cx="556.34" cy="640.31" r="4.86"/>
<circle cx="559.13" cy="640.12" r="4.86"/>
<circle cx="561.93" cy="639.93" r="4.86"/>
<circle cx="564.72" cy="639.74" r="4.86"/>
<circle cx="567.52" cy="639.54" r="4.86"/>
<circle cx="570.31" cy="639.25" r="4.86"/>
<circle cx="573.1" cy="638.96" r="4.86"/>
<circle cx="575.9" cy="638.67" r="4.86"/>
<circle cx="578.69" cy="638.38" r="4.86"/>
<circle cx="581.49" cy="638.05" r="4.86"/>
<circle cx="584.28" cy="637.69" r="4.86"/>
<circle cx="587.08" cy="637.33" r="4.86"/>
<circle cx="589.87" cy="636.97" r="4.86"/>
<circle cx="592.67" cy="636.62" r="4.86"/>
<circle cx="595.46" cy="636.39" r="4.86"/>
<circle cx="598.26" cy="636.15" r="4.86"/>
<circle cx="601.05" cy="635.91" r="4.86"/>
<circle cx="603.85" cy="635.68" r="4.86"/>
<circle cx="606.64" cy="635.42" r="4.86"/>
<circle cx="609.44" cy="635.15" r="4.86"/>
<circle cx="612.23" cy="634.94" r="4.86"/>
<circle cx="615.02" cy="634.75" r="4.86"/>
<circle cx="617.82" cy="634.56" r="4.86"/>
<circle cx="620.61" cy="634.42" r="4.86"/>
<circle cx="623.41" cy="634.28" r="4.86"/>
<circle cx="626.2" cy="634.14" r="4.86"/>
<circle cx="629" cy="634" r="4.86"/>
<circle cx="631.79" cy="633.68" r="4.86"/>
<circle cx="634.59" cy="633.27" r="4.86"/>
<circle cx="637.38" cy="632.86" r="4.86"/>
<circle cx="640.18" cy="632.44" r="4.86"/>
<circle cx="642.97" cy="632.03" r="4.86"/>
<circle cx="645.77" cy="631.74" r="4.86"/>
<circle cx="648.56" cy="631.48" r="4.86"/>
<circle cx="651.36" cy="631.22" r="4.86"/>
<circle cx="654.15" cy="630.96" r="4.86"/>
<circle cx="656.94" cy="630.68" r="4.86"/>
<circle cx="659.74" cy="630.39" r="4.86"/>
<circle cx="662.53" cy="630.24" r="4.86"/>
<circle cx="665.33" cy="629.85" r="4.86"/>
<circle cx="668.12" cy="629.47" r="4.86"/>
<circle cx="670.92" cy="629.08" r="4.86"/>
<circle cx="673.71" cy="628.7" r="4.86"/>
<circle cx="676.51" cy="628.26" r="4.86"/>
<circle cx="679.3" cy="627.79" r="4.86"/>
<circle cx="682.1" cy="627.32" r="4.86"/>
<circle cx="684.89" cy="626.85" r="4.86"/>
<circle cx="687.69" cy="626.38" r="4.86"/>
<circle cx="690.48" cy="626.06" r="4.86"/>
<circle cx="693.28" cy="625.66" r="4.86"/>
<circle cx="696.07" cy="625.26" r="4.86"/>
<circle cx="698.87" cy="624.86" r="4.86"/>
<circle cx="701.66" cy="624.6" r="4.86"/>
<circle cx="710.04" cy="623.49" r="4.86"/>
<circle cx="712.84" cy="623.04" r="4.86"/>
<circle cx="715.63" cy="622.53" r="4.86"/>
<circle cx="718.43" cy="622.04" r="4.86"/>
<circle cx="721.22" cy="621.56" r="4.86"/>
<circle cx="724.02" cy="621.07" r="4.86"/>
<circle cx="726.81" cy="620.57" r="4.86"/>
<circle cx="729.61" cy="620.07" r="4.86"/>
<circle cx="732.4" cy="619.34" r="4.86"/>
<circle cx="735.2" cy="618.58" r="4.86"/>
<circle cx="737.99" cy="617.82" r="4.86"/>
<circle cx="740.79" cy="617.1" r="4.86"/>
<circle cx="743.58" cy="616.37" r="4.86"/>
<circle cx="746.37" cy="615.61" r="4.86"/>
<circle cx="749.17" cy="614.8" r="4.86"/>
<circle cx="751.96" cy="614" r="4.86"/>
<circle cx="754.76" cy="613.11" r="4.86"/>
<circle cx="757.55" cy="612.2" r="4.86"/>
<circle cx="760.35" cy="611.31" r="4.86"/>
<circle cx="763.14" cy="610.57" r="4.86"/>
<circle cx="765.94" cy="609.84" r="4.86"/>
<circle cx="768.73" cy="608.92" r="4.86"/>
<circle cx="771.53" cy="607.71" r="4.86"/>
<circle cx="774.32" cy="606.46" r="4.86"/>
<circle cx="777.12" cy="605.25" r="4.86"/>
<circle cx="779.91" cy="604.13" r="4.86"/>
<circle cx="782.71" cy="603.07" r="4.86"/>
<circle cx="785.5" cy="602.33" r="4.86"/>
</g>
<path clip-path="url(#c2)" d="M707.05 1144.85V593.5" stroke="#1f77b4" stroke-opacity="0.5" stroke-width="2.08" stroke-dasharray="7.71 3.33" fill="none"/>
<path d="M50.5 1145.5v4.86M785.5 1145.5v4.86M128.5 1145.5v4.86M212.5 1145.5v4.86M299.5 1145.5v4.86M383.5 1145.5v4.86M469.5 1145.5v4.86M556.5 1145.5v4.86M640.5 1145.5v4.86M726.5 1145.5v4.86" stroke="#000" stroke-width="1.11" fill="none"/>
<path d="M64.5 1145.5v2.78M84.5 1145.5v2.78M103.5 1145.5v2.78M123.5 1145.5v2.78M142.5 1145.5v2.78M162.5 1145.5v2.78M181.5 1145.5v2.78M201.5 1145.5v2.78M220.5 1145.5v2.78M240.5 1145.5v2.78M260.5 1145.5v2.78M279.5 1145.5v2.78M299.5 1145.5v2.78M318.5 1145.5v2.78M338.5 1145.5v2.78M357.5 1145.5v2.78M377.5 1145.5v2.78M397.5 1145.5v2.78M416.5 1145.5v2.78M436.5 1145.5v2.78M455.5 1145.5v2.78M475.5 1145.5v2.78M494.5 1145.5v2.78M514.5 1145.5v2.78M533.5 1145.5v2.78M553.5 1145.5v2.78M573.5 1145.5v2.78M592.5 1145.5v2.78M612.5 1145.5v2.78M631.5 1145.5v2.78M651.5 1145.5v2.78M670.5 1145.5v2.78M690.5 1145.5v2.78M710.5 1145.5v2.78M729.5 1145.5v2.78M749.5 1145.5v2.78M768.5 1145.5v2.78" stroke="#000" stroke-width="0.83" fill="none"/>
<path d="M50.5 1145.5h-4.86M50.5 991.5h-4.86M50.5 836.5h-4.86M50.5 682.5h-4.86" stroke="#000" stroke-width="1.11" fill="none"/>
<path d="M50.5 1099.5h-2.78M50.5 1071.5h-2.78M50.5 1052.5h-2.78M50.5 1037.5h-2.78M50.5 1025.5h-2.78M50.5 1015.5h-2.78M50.5 1006.5h-2.78M50.5 998.5h-2.78M50.5 944.5h-2.78M50.5 917.5h-2.78M50.5 898.5h-2.78M50.5 883.5h-2.78M50.5 870.5h-2.78M50.5 860.5h-2.78M50.5 851.5h-2.78M50.5 843.5h-2.78M50.5 790.5h-2.78M50.5 763.5h-2.78M50.5 743.5h-2.78M50.5 728.5h-2.78M50.5 716.5h-2.78M50.5 706.5h-2.78M50.5 697.5h-2.78M50.5 689.5h-2.78M50.5 635.5h-2.78M50.5 608.5h-2.78" stroke="#000" stroke-width="0.83" fill="none"/>
<rect x="50.5" y="593.5" width="735.0" height="552.0" fill="none" stroke="#000" stroke-width="1.11" stroke-linejoin="miter"/>
<text x="15.95" y="1151.8" font-size="13.89"><tspan letter-spacing="-0.6">1</tspan>0<tspan dy="-5.25" font-size="9.72">0</tspan></text>
<text x="15.95" y="997.8" font-size="13.89"><tspan letter-spacing="-0.6">1</tspan>0<tspan dy="-5.25" font-size="9.72">1</tspan></text>
<text x="15.95" y="842.8" font-size="13.89"><tspan letter-spacing="-0.6">1</tspan>0<tspan dy="-5.25" font-size="9.72">2</tspan></text>
<text x="15.95" y="688.8" font-size="13.89"><tspan letter-spacing="-0.6">1</tspan>0<tspan dy="-5.25" font-size="9.72">3</tspan></text>
<rect x="57.5" y="600.1" width="97.3" height="25.6" rx="2.78" fill="#fff" fill-opacity="0.8" stroke="#ccc" stroke-opacity="0.8" stroke-width="1.39"/>
<path d="M62.1 612h28.7" stroke="#1f77b4" stroke-width="2.08" fill="none"/>
<text x="101.95" y="615.95" font-size="13.89" letter-spacing="-0.15">deaths</text>
<text x="127.5" y="1165.8" font-size="13.89" text-anchor="middle" letter-spacing="-0.35">Apr</text>
<text x="211.5" y="1165.8" font-size="13.89" text-anchor="middle" letter-spacing="-0.35">May</text>
<text x="298.5" y="1165.8" font-size="13.89" text-anchor="middle" letter-spacing="-0.35">Jun</text>
<text x="382.5" y="1165.8" font-size="13.89" text-anchor="middle" letter-spacing="-0.35">Jul</text>
<text x="468.9" y="1165.8" font-size="13.89" text-anchor="middle" letter-spacing="-0.35">Aug</text>
<text x="556.3" y="1165.8" font-size="13.89" text-anchor="middle" letter-spacing="-0.35">Sep</text>
<text x="639.5" y="1165.8" font-size="13.89" text-anchor="middle" letter-spacing="-0.35">Oct</text>
<text x="725.9" y="1165.8" font-size="13.89" text-anchor="middle" letter-spacing="-0.35">Nov</text>
<text x="128.5" y="1181.8" font-size="13.89" text-anchor="middle">2020</text>
</svg></body></html>
